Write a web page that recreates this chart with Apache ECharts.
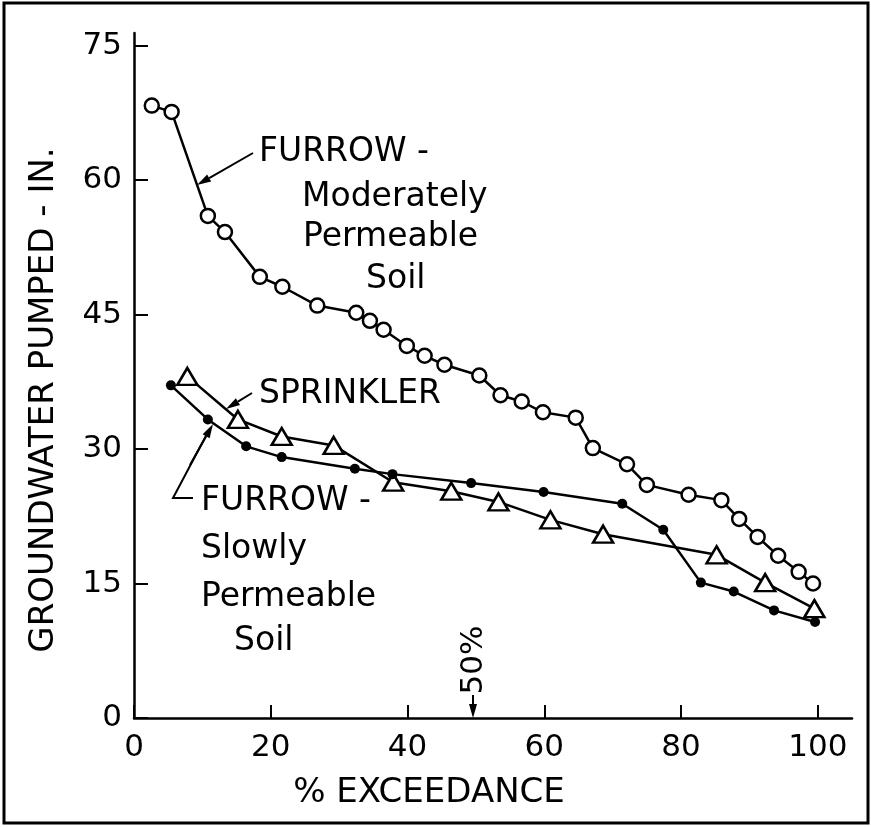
<!DOCTYPE html>
<html>
<head>
<meta charset="utf-8">
<script src="https://cdn.jsdelivr.net/npm/echarts@6/dist/echarts.min.js"></script>
<style>
  html,body{margin:0;padding:0;background:#fff;}
  #chart{width:871px;height:827px;}
</style>
</head>
<body>
<div id="chart"></div>
<script>
// % exceedance / groundwater pumped (in.)
const furrowModerate = [
  [2.6,68.3],[5.5,67.6],[10.8,56.0],[13.3,54.2],[18.4,49.2],[21.7,48.1],[26.8,46.0],
  [32.5,45.2],[34.5,44.3],[36.5,43.3],[39.9,41.5],[42.5,40.4],[45.4,39.4],[50.5,38.2],
  [53.6,36.0],[56.7,35.3],[59.8,34.1],[64.6,33.5],[67.1,30.1],[72.1,28.3],[75.0,26.0],
  [81.1,24.9],[85.9,24.3],[88.5,22.2],[91.2,20.2],[94.2,18.1],[97.2,16.3],[99.3,15.0]
];
const sprinkler = [
  [7.8,38.1],[15.2,33.3],[21.6,31.4],[29.2,30.4],[37.9,26.3],[46.4,25.3],[53.3,24.1],
  [60.9,22.1],[68.6,20.5],[85.2,18.2],[92.3,15.1],[99.5,12.2]
];
const furrowSlow = [
  [5.4,37.1],[10.8,33.3],[16.4,30.3],[21.6,29.1],[32.3,27.8],[37.8,27.2],[49.3,26.2],
  [59.9,25.2],[71.4,23.9],[77.4,21.0],[82.9,15.1],[87.7,14.1],[93.6,12.0],[99.6,10.7]
];
const xTicks = [0,20,40,60,80,100];
const yTicks = [0,15,30,45,60,75];

const FONT = '"DejaVu Sans", sans-serif';

function txt(x, y, text, opts) {
  opts = opts || {};
  return {
    type: 'text', x: x, y: y, rotation: opts.rotation || 0, z: 10,
    style: {
      text: text, fontSize: opts.size || 33, fontFamily: FONT, fill: '#000',
      textAlign: opts.align || 'left', verticalAlign: 'middle'
    }
  };
}

function arrow(x1, y1, x2, y2) {
  const dx = x2 - x1, dy = y2 - y1;
  const len = Math.sqrt(dx*dx + dy*dy);
  const ux = dx/len, uy = dy/len;
  const hl = 14, hw = 4;
  const bx = x2 - ux*hl, by = y2 - uy*hl;
  return [
    {type:'line', z:10, shape:{x1:x1,y1:y1,x2:bx,y2:by}, style:{stroke:'#000', lineWidth:2}},
    {type:'polygon', z:10, shape:{points:[[x2,y2],[bx - uy*hw, by + ux*hw],[bx + uy*hw, by - ux*hw]]},
     style:{fill:'#000'}}
  ];
}

const graphics = [
  {type:'rect', shape:{x:4,y:3,width:864,height:820}, style:{fill:'none', stroke:'#000', lineWidth:3}},
  txt(44, 400, 'GROUNDWATER PUMPED - IN.', {rotation: Math.PI/2, align:'center', size:34}),
  txt(429, 793, '% EXCEEDANCE', {align:'center', size:34}),
  // furrow moderately permeable
  txt(259, 152, 'FURROW -'),
  txt(302, 197, 'Moderately'),
  txt(303, 237, 'Permeable'),
  txt(366, 279, 'Soil'),
  ...arrow(253, 153, 197, 185),
  // sprinkler
  txt(259, 394, 'SPRINKLER'),
  ...arrow(252, 393, 226, 409),
  // furrow slowly permeable
  txt(201, 501, 'FURROW -'),
  txt(201, 549, 'Slowly'),
  txt(201, 597, 'Permeable'),
  txt(234, 641, 'Soil'),
  {type:'polyline', z:10, shape:{points:[[193,498],[173,498],[208,432]]}, style:{stroke:'#000', lineWidth:2, fill:'none'}},
  ...arrow(190, 465, 213, 424),
  // 50% marker
  txt(474, 660, '50%', {rotation: Math.PI/2, align:'center', size:31}),
  ...arrow(473, 695, 473, 718)
];

const lineBase = {
  type: 'line', showAllSymbol: true, animation: false,
  lineStyle: {color:'#000', width:2.5}
};

const option = {
  animation: false,
  grid: {left:134, right:19, top:33, bottom:109, containLabel:false},
  xAxis: {
    type:'value', min:0, max:105,
    axisLine:{show:true, lineStyle:{color:'#000', width:2.5}},
    axisTick:{show:true, inside:true, length:13, customValues:xTicks, lineStyle:{color:'#000', width:2}},
    axisLabel:{customValues:xTicks, color:'#000', fontSize:31, fontFamily:FONT, margin:14},
    splitLine:{show:false}
  },
  yAxis: {
    type:'value', min:0, max:76.4,
    axisLine:{show:true, lineStyle:{color:'#000', width:2.5}},
    axisTick:{show:true, inside:true, length:14, customValues:yTicks, lineStyle:{color:'#000', width:2}},
    axisLabel:{customValues:yTicks, color:'#000', fontSize:31, fontFamily:FONT, margin:12},
    splitLine:{show:false}
  },
  series: [
    Object.assign({}, lineBase, {
      name:'FURROW - Moderately Permeable Soil', data: furrowModerate,
      symbol:'circle', symbolSize:14,
      itemStyle:{color:'#fff', borderColor:'#000', borderWidth:2.5}
    }),
    Object.assign({}, lineBase, {
      name:'SPRINKLER', data: sprinkler,
      symbol:'triangle', symbolSize:[20,17],
      itemStyle:{color:'#fff', borderColor:'#000', borderWidth:2.5}
    }),
    Object.assign({}, lineBase, {
      name:'FURROW - Slowly Permeable Soil', data: furrowSlow,
      symbol:'circle', symbolSize:10,
      itemStyle:{color:'#000', borderColor:'#000', borderWidth:0}
    })
  ],
  graphic: graphics
};

const chart = echarts.init(document.getElementById('chart'), null, {renderer:'canvas'});
chart.setOption(option);
</script>
</body>
</html>
